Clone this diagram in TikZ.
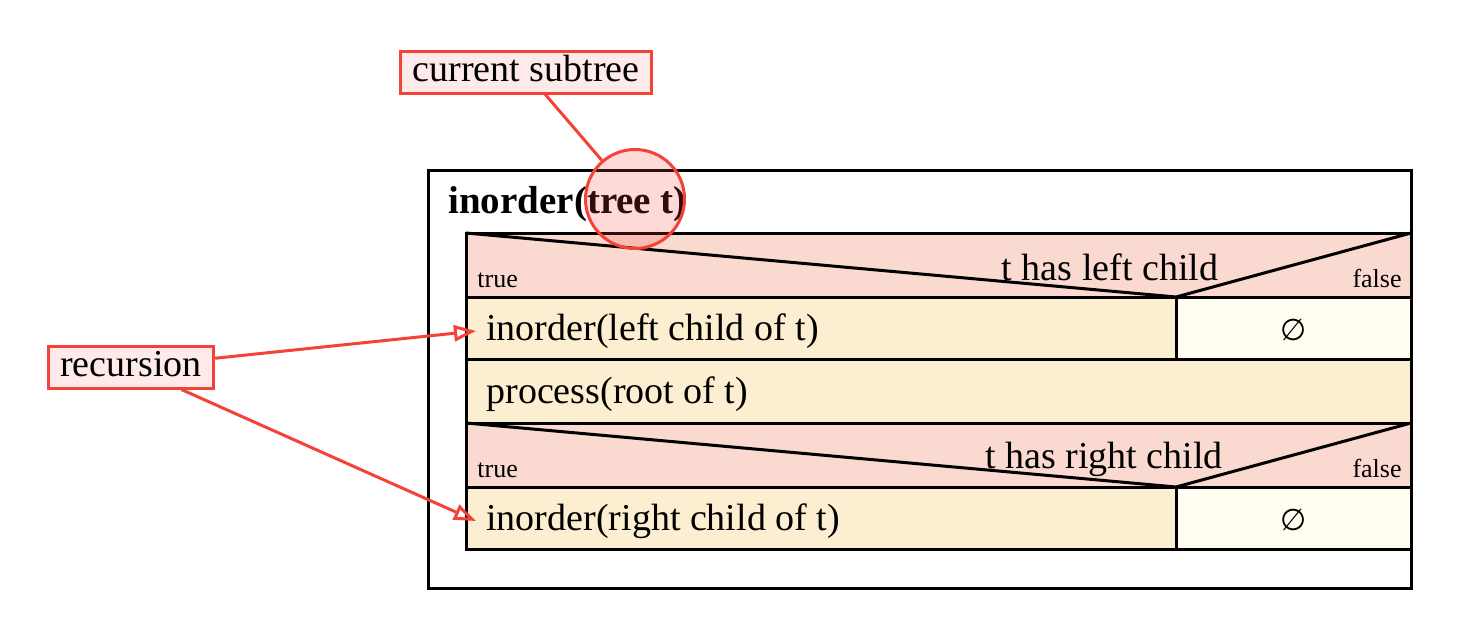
\documentclass[tikz,border=0pt]{standalone}
\usepackage{fontspec}
\setmainfont{Liberation Serif}
\newfontfamily\symfont{DejaVu Sans}
\usetikzlibrary{arrows.meta}
\definecolor{condfill}{RGB}{249,217,208}
\definecolor{stepfill}{RGB}{252,238,208}
\definecolor{voidfill}{RGB}{255,254,240}
\definecolor{notered}{RGB}{244,67,54}
\definecolor{notefill}{RGB}{255,234,234}
\pgfdeclarelayer{background}
\pgfdeclarelayer{foreground}
\pgfsetlayers{background,main,foreground}
\tikzset{
  lbl/.style={font=\fontsize{19}{22}\selectfont, inner sep=0pt},
  small/.style={font=\fontsize{13}{15}\selectfont, inner sep=0pt},
  note/.style={draw=notered, fill=notefill, line width=1.5pt, inner xsep=6pt, inner ysep=2pt,
    text height=13pt, text depth=4pt, font=\fontsize{19}{22}\selectfont},
  noteline/.style={draw=notered, line width=1.5pt},
  frame/.style={line width=1.5pt},
}

\begin{document}
\begin{tikzpicture}[x=0.5pt,y=-0.5pt]
\useasboundingbox (0,0) rectangle (1461,637);
\begin{pgfonlayer}{background}
\fill[condfill] (466,233) rectangle (1411,297);
\fill[stepfill] (466,297) rectangle (1176,359);
\fill[voidfill] (1176,297) rectangle (1411,359);
\fill[stepfill] (466,359) rectangle (1411,423);
\fill[condfill] (466,423) rectangle (1411,487);
\fill[stepfill] (466,487) rectangle (1176,549);
\fill[voidfill] (1176,487) rectangle (1411,549);
\end{pgfonlayer}
% outer box and structogram
\draw[frame] (428,170) rectangle (1411,588);
\draw[frame] (466,233) rectangle (1411,549);
\draw[frame] (466,297) -- (1411,297);
\draw[frame] (466,359) -- (1411,359);
\draw[frame] (466,423) -- (1411,423);
\draw[frame] (466,487) -- (1411,487);
\draw[frame] (1176,297) -- (1176,359);
\draw[frame] (1176,487) -- (1176,549);
\draw[frame] (466,233) -- (1176,297) -- (1411,233);
\draw[frame] (466,423) -- (1176,487) -- (1411,423);
% texts
\node[lbl, font=\fontsize{19.5}{22}\selectfont\bfseries, anchor=base west] (title) at (448,213) {inorder(tree t)};
\node[lbl, anchor=base] (cond1) at (1110,280) {t has left child};
\node[small, anchor=base west] (true1) at (477,287) {true};
\node[small, anchor=base east] (false1) at (1402,287) {false};
\node[lbl, anchor=base west, inner xsep=5pt, text height=13pt, text depth=4pt] (leftcall) at (476,340) {inorder(left child of t)};
\node[lbl, font=\fontsize{15}{18}\symfont] (void1) at (1294,330) {∅};
\node[lbl, anchor=base west] (root) at (486,403) {process(root of t)};
\node[lbl, anchor=base] (cond2) at (1104,468) {t has right child};
\node[small, anchor=base west] (true2) at (477,477) {true};
\node[small, anchor=base east] (false2) at (1402,477) {false};
\node[lbl, anchor=base west, inner xsep=5pt, text height=13pt, text depth=4pt] (rightcall) at (476,530) {inorder(right child of t)};
\node[lbl, font=\fontsize{15}{18}\symfont] (void2) at (1294,520) {∅};
% notes
\begin{pgfonlayer}{foreground}
\node[circle, draw=notered, line width=1.5pt, fill=notered, fill opacity=0.2, minimum size=49.5pt, inner sep=0pt] (focus) at (635,199) {};
\node[note] (subtree) at (526,72) {current subtree};
\node[note] (recur) at (131,367) {recursion};
\draw[noteline] (subtree) -- (focus);
\draw[noteline, -{Triangle[open, length=11pt, width=8pt]}] (recur) -- (leftcall.west);
\draw[noteline, -{Triangle[open, length=11pt, width=8pt]}] (recur) -- (rightcall.west);
\end{pgfonlayer}
\end{tikzpicture}
\end{document}
